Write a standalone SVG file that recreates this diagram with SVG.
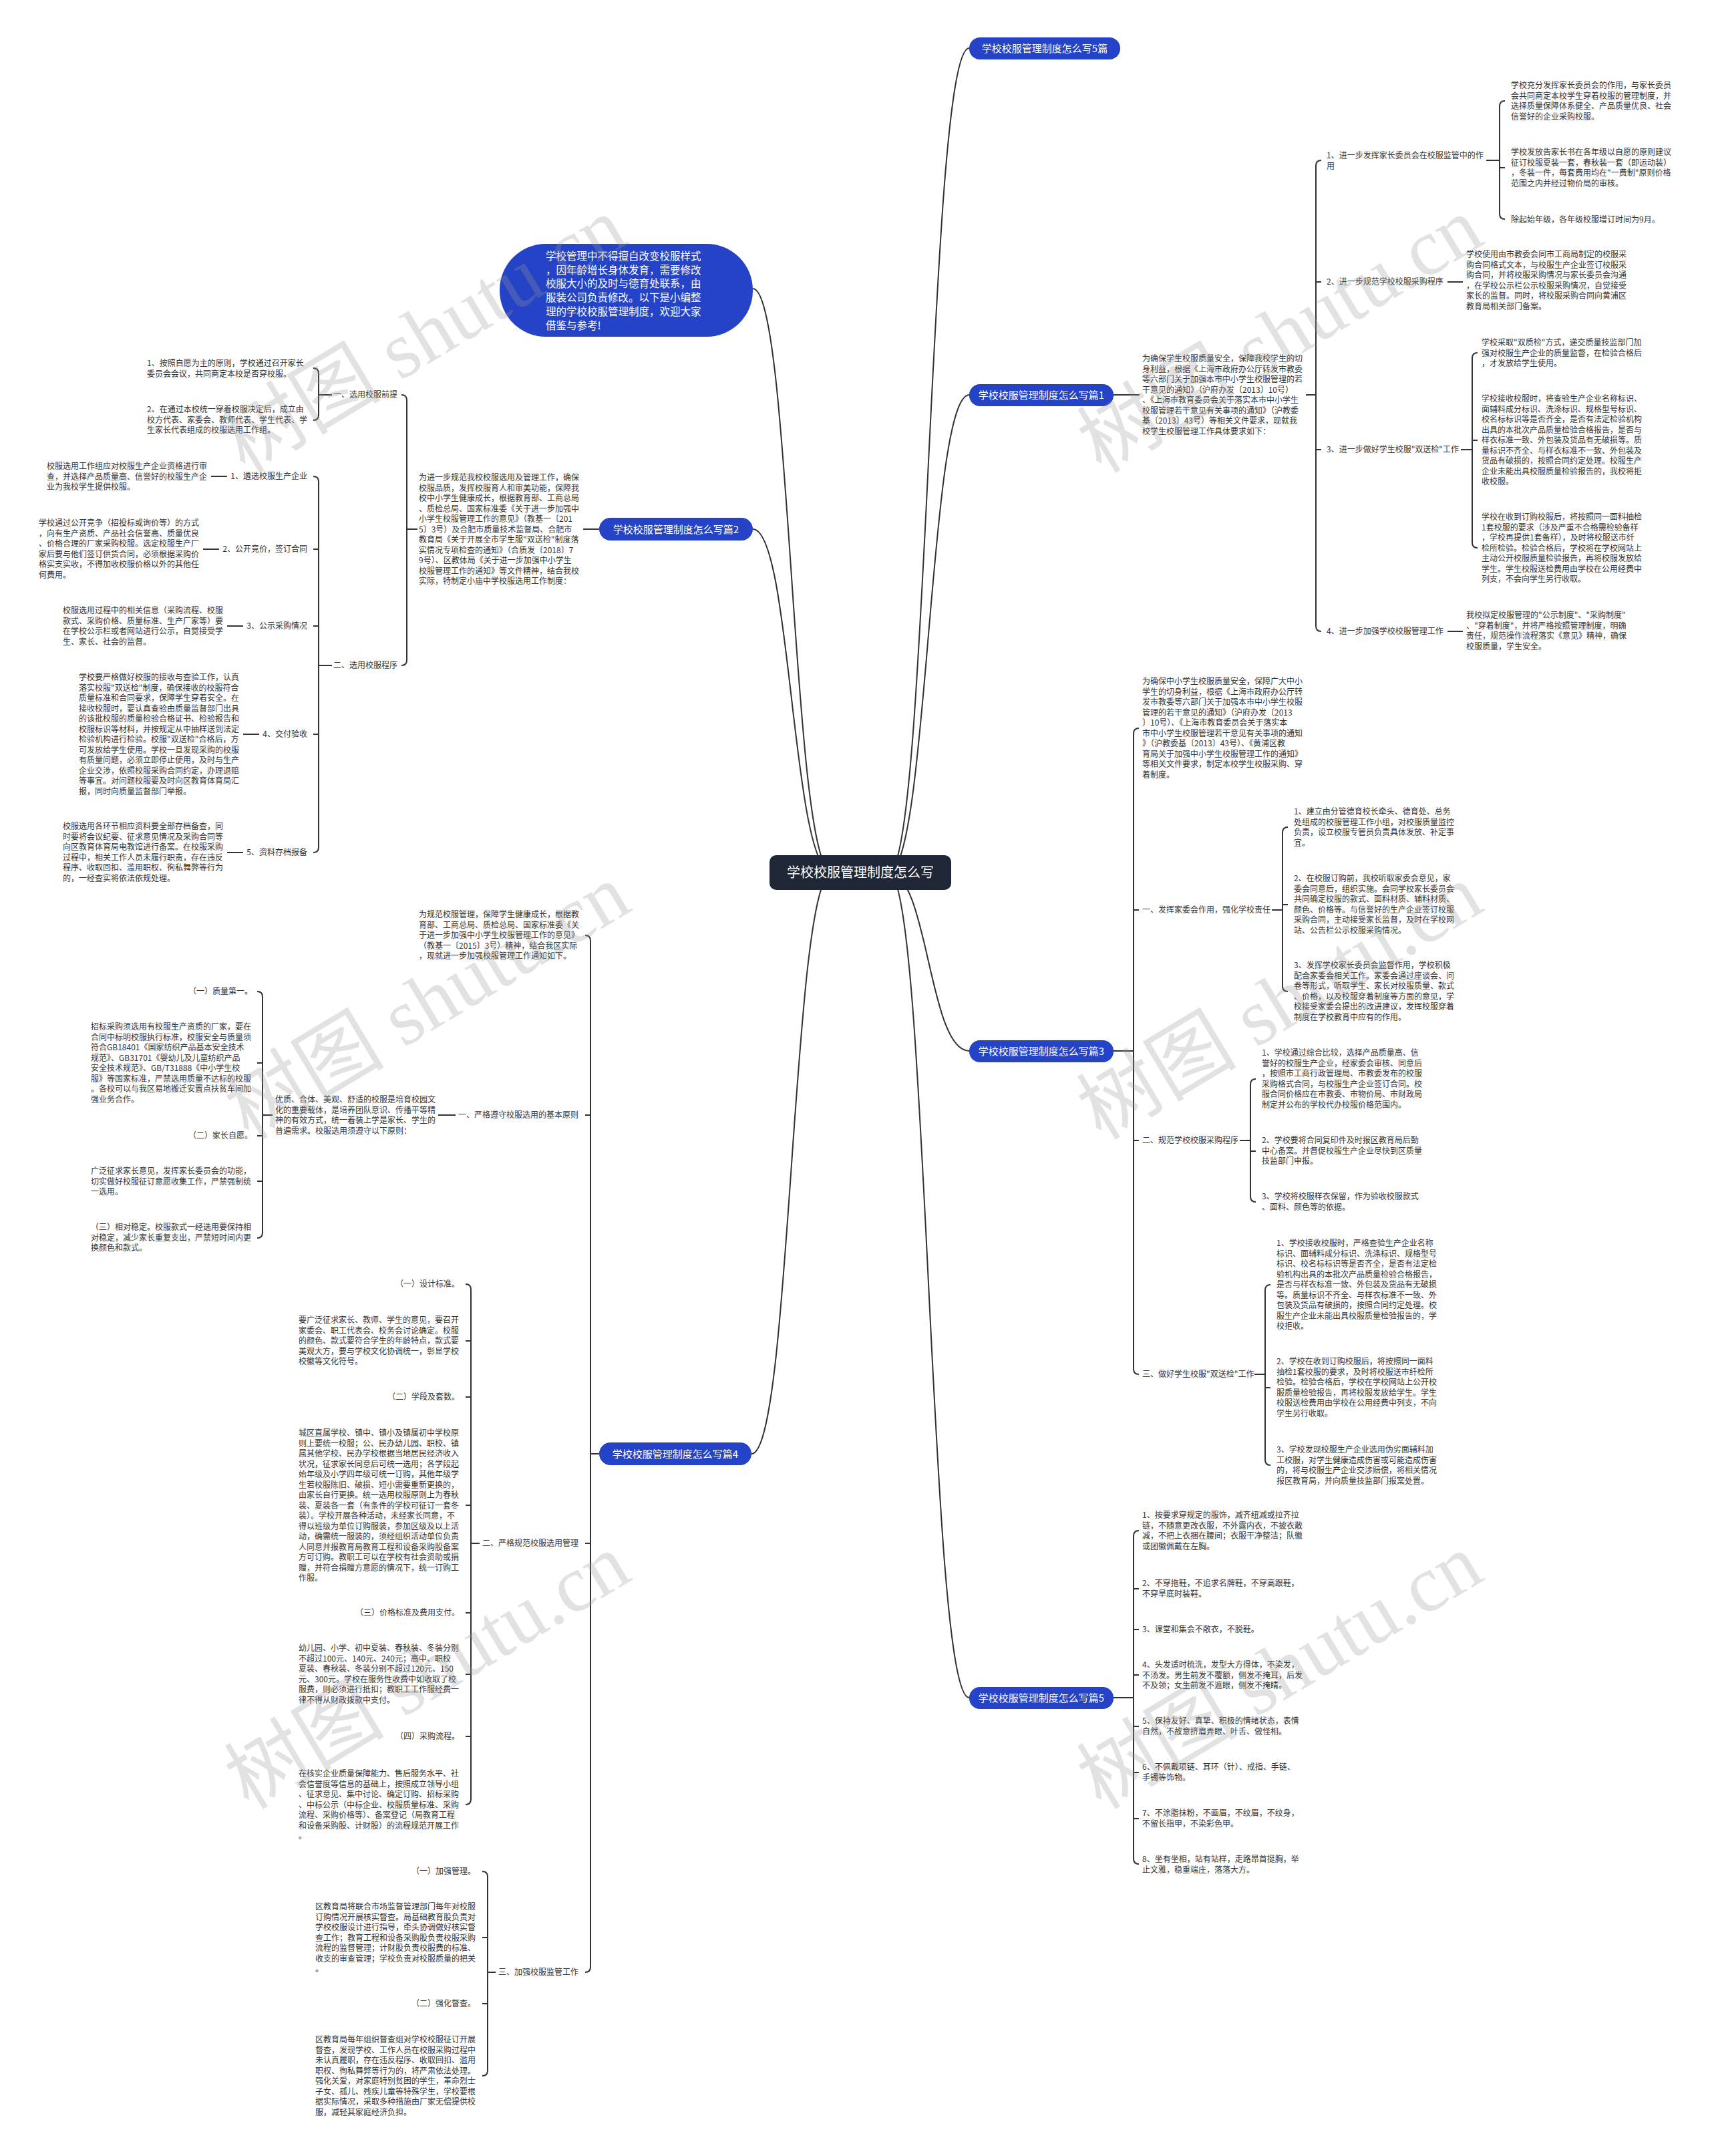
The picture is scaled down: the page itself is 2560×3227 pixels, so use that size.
<svg xmlns="http://www.w3.org/2000/svg" width="2560" height="3227" viewBox="0 0 2560 3227">
<style>
.t{font-family:"Noto Sans CJK SC","Noto Sans",sans-serif;font-size:12px;fill:#333}
.e{text-anchor:end}
.bt{font-family:"Noto Sans CJK SC","Noto Sans",sans-serif;font-size:15px;fill:#fff;text-anchor:middle}
.bu{font-family:"Noto Sans CJK SC","Noto Sans",sans-serif;font-size:15.5px;fill:#fff}
.rt{font-family:"Noto Sans CJK SC","Noto Sans",sans-serif;font-size:20px;fill:#fff;text-anchor:middle}
.c{fill:none;stroke:#333;stroke-width:2}
.pill{fill:#2443c6}
.wm{font-family:"Liberation Serif","Noto Sans CJK SC",serif;font-size:120px;fill:#999;opacity:.28;text-anchor:middle}
</style>
<rect width="2560" height="3227" fill="#fff"/>
<g id="connectors">
<path class="c" d="M1330 1306 C1390 1306 1390 72 1451 72 M1330 1306 C1390 1306 1390 591 1451 591 M1330 1306 C1390 1306 1390 1573 1451 1573 M1330 1306 C1390 1306 1390 2541 1451 2541"/>
<path class="c" d="M1246 1306 C1185 1306 1185 432 1127 432 M1246 1306 C1185 1306 1185 792 1127 792 M1246 1306 C1185 1306 1185 2176 1125 2176"/>
<path class="c" d="M1667 591 H1706 M1955 591 H1970 M1978 240 Q1970 240 1970 248 V937 Q1970 945 1978 945 M1970 422 H1978 M1970 673 H1978"/>
<path class="c" d="M2225 240 H2245 M2253 151 Q2245 151 2245 159 V320 Q2245 328 2253 328 M2245 251 H2253"/>
<path class="c" d="M2167 422 H2190 M2167 945 H2190"/>
<path class="c" d="M2187 673 H2204 M2212 528 Q2204 528 2204 536 V812 Q2204 820 2212 820 M2204 659 H2212"/>
<path class="c" d="M1667 1573 H1697 M1705 1090 Q1697 1090 1697 1098 V2049 Q1697 2057 1705 2057 M1697 1362 H1705 M1697 1707 H1705"/>
<path class="c" d="M1904 1362 H1920 M1928 1238 Q1920 1238 1920 1246 V1476 Q1920 1484 1928 1484 M1920 1354 H1928"/>
<path class="c" d="M1856 1707 H1872 M1880 1615 Q1872 1615 1872 1623 V1791 Q1872 1799 1880 1799 M1872 1723 H1880"/>
<path class="c" d="M1878 2057 H1894 M1902 1923 Q1894 1923 1894 1931 V2185 Q1894 2193 1902 2193 M1894 2077 H1902"/>
<path class="c" d="M1667 2541 H1697 M1705 2291 Q1697 2291 1697 2299 V2782 Q1697 2790 1705 2790 M1697 2378 H1705 M1697 2439 H1705 M1697 2507 H1705 M1697 2584 H1705 M1697 2653 H1705 M1697 2722 H1705"/>
<path class="c" d="M897 792 H873 M625 792 H609 M601 591 Q609 591 609 599 V988 Q609 996 601 996"/>
<path class="c" d="M497 591 H477 M469 551 Q477 551 477 559 V621 Q477 629 469 629"/>
<path class="c" d="M497 996 H477 M469 713 Q477 713 477 721 V1268 Q477 1276 469 1276 M477 822 H469 M477 937 H469 M477 1099 H469"/>
<path class="c" d="M316 713 H340 M304 822 H328 M340 937 H364 M364 1099 H388 M340 1276 H364"/>
<path class="c" d="M897 2176 H884 M876 1400 Q884 1400 884 1408 V2944 Q884 2952 876 2952 M884 1669 H876 M884 2310 H876"/>
<path class="c" d="M656 1669 H682 M408 1669 H393 M385 1484 Q393 1484 393 1492 V1845 Q393 1853 385 1853 M393 1591 H385 M393 1700 H385 M393 1768 H385"/>
<path class="c" d="M718 2310 H705 M697 1922 Q705 1922 705 1930 V2693 Q705 2701 697 2701 M705 2007 H697 M705 2091 H697 M705 2253 H697 M705 2414 H697 M705 2506 H697 M705 2599 H697"/>
<path class="c" d="M742 2952 H730 M722 2801 Q730 2801 730 2809 V3099 Q730 3107 722 3107 M730 2900 H722 M730 2999 H722"/>
</g>
<g id="root"><rect x="1152" y="1280" width="272" height="52" rx="10" fill="#1f2636"/><text class="rt" x="1288" y="1313">学校校服管理制度怎么写</text></g>
<g id="intro-bubble"><rect x="748" y="365" width="379" height="139" rx="69" class="pill"/><text class="bu" x="817" y="389"><tspan x="817">学校管理中不得擅自改变校服样式</tspan><tspan x="817" dy="20.7">，因年龄增长身体发育，需要修改</tspan><tspan x="817" dy="20.7">校服大小的及时与德育处联系，由</tspan><tspan x="817" dy="20.7">服装公司负责修改。以下是小编整</tspan><tspan x="817" dy="20.7">理的学校校服管理制度，欢迎大家</tspan><tspan x="817" dy="20.7">借鉴与参考!</tspan></text></g>
<g id="b5"><rect x="1451" y="56" width="226" height="33" rx="16" class="pill"/><text class="bt" x="1564" y="78">学校校服管理制度怎么写5篇</text></g>
<g id="b1"><rect x="1451" y="575" width="216" height="33" rx="16" class="pill"/><text class="bt" x="1559" y="597">学校校服管理制度怎么写篇1</text></g>
<g id="b3"><rect x="1451" y="1557" width="216" height="33" rx="16" class="pill"/><text class="bt" x="1559" y="1579">学校校服管理制度怎么写篇3</text></g>
<g id="b5b"><rect x="1451" y="2525" width="216" height="33" rx="16" class="pill"/><text class="bt" x="1559" y="2547">学校校服管理制度怎么写篇5</text></g>
<g id="b2"><rect x="897" y="775" width="230" height="34" rx="17" class="pill"/><text class="bt" x="1012" y="798">学校校服管理制度怎么写篇2</text></g>
<g id="b4"><rect x="897" y="2159" width="228" height="34" rx="17" class="pill"/><text class="bt" x="1011" y="2182">学校校服管理制度怎么写篇4</text></g>

<g id="p1-intro"><text class="t" x="1710" y="541"><tspan x="1710">为确保学生校服质量安全，保障我校学生的切</tspan><tspan x="1710" dy="15.5">身利益，根据《上海市政府办公厅转发市教委</tspan><tspan x="1710" dy="15.5">等六部门关于加强本市中小学生校服管理的若</tspan><tspan x="1710" dy="15.5">干意见的通知》（沪府办发〔2013〕10号）</tspan><tspan x="1710" dy="15.5">、《上海市教育委员会关于落实本市中小学生</tspan><tspan x="1710" dy="15.5">校服管理若干意见有关事项的通知》（沪教委</tspan><tspan x="1710" dy="15.5">基〔2013〕43号）等相关文件要求，现就我</tspan><tspan x="1710" dy="15.5">校学生校服管理工作具体要求如下：</tspan></text></g>
<g id="p1-i1"><text class="t" x="1986" y="237"><tspan x="1986">1、进一步发挥家长委员会在校服监管中的作</tspan><tspan x="1986" dy="15.5">用</tspan></text></g>
<g id="p1-i2"><text class="t" x="1986" y="426">2、进一步规范学校校服采购程序</text></g>
<g id="p1-i3"><text class="t" x="1986" y="677">3、进一步做好学生校服"双送检"工作</text></g>
<g id="p1-i4"><text class="t" x="1986" y="949">4、进一步加强学校校服管理工作</text></g>
<g id="p1-l1a"><text class="t" x="2262" y="132"><tspan x="2262">学校充分发挥家长委员会的作用，与家长委员</tspan><tspan x="2262" dy="15.5">会共同商定本校学生穿着校服的管理制度，并</tspan><tspan x="2262" dy="15.5">选择质量保障体系健全、产品质量优良、社会</tspan><tspan x="2262" dy="15.5">信誉好的企业采购校服。</tspan></text></g>
<g id="p1-l1b"><text class="t" x="2262" y="232"><tspan x="2262">学校发放告家长书在各年级以自愿的原则建议</tspan><tspan x="2262" dy="15.5">征订校服夏装一套，春秋装一套（即运动装）</tspan><tspan x="2262" dy="15.5">，冬装一件，每套费用均在"一费制"原则价格</tspan><tspan x="2262" dy="15.5">范围之内并经过物价局的审核。</tspan></text></g>
<g id="p1-l1c"><text class="t" x="2262" y="333">除起始年级，各年级校服增订时间为9月。</text></g>
<g id="p1-l2"><text class="t" x="2195" y="385"><tspan x="2195">学校使用由市教委会同市工商局制定的校服采</tspan><tspan x="2195" dy="15.5">购合同格式文本，与校服生产企业签订校服采</tspan><tspan x="2195" dy="15.5">购合同，并将校服采购情况与家长委员会沟通</tspan><tspan x="2195" dy="15.5">，在学校公示栏公示校服采购情况，自觉接受</tspan><tspan x="2195" dy="15.5">家长的监督。同时，将校服采购合同向黄浦区</tspan><tspan x="2195" dy="15.5">教育局相关部门备案。</tspan></text></g>
<g id="p1-l3a"><text class="t" x="2218" y="517"><tspan x="2218">学校采取"双质检"方式，递交质量技监部门加</tspan><tspan x="2218" dy="15.5">强对校服生产企业的质量监督，在检验合格后</tspan><tspan x="2218" dy="15.5">，才发放给学生使用。</tspan></text></g>
<g id="p1-l3b"><text class="t" x="2218" y="601"><tspan x="2218">学校接收校服时，将查验生产企业名称标识、</tspan><tspan x="2218" dy="15.5">面辅料成分标识、洗涤标识、规格型号标识、</tspan><tspan x="2218" dy="15.5">校名标标识等是否齐全，是否有法定检验机构</tspan><tspan x="2218" dy="15.5">出具的本批次产品质量检验合格报告，是否与</tspan><tspan x="2218" dy="15.5">样衣标准一致、外包装及货品有无破损等。质</tspan><tspan x="2218" dy="15.5">量标识不齐全、与样衣标准不一致、外包装及</tspan><tspan x="2218" dy="15.5">货品有破损的，按照合同约定处理。校服生产</tspan><tspan x="2218" dy="15.5">企业未能出具校服质量检验报告的，我校将拒</tspan><tspan x="2218" dy="15.5">收校服。</tspan></text></g>
<g id="p1-l3c"><text class="t" x="2218" y="778"><tspan x="2218">学校在收到订购校服后，将按照同一面料抽检</tspan><tspan x="2218" dy="15.5">1套校服的要求（涉及严重不合格需检验备样</tspan><tspan x="2218" dy="15.5">，学校再提供1套备样），及时将校服送市纤</tspan><tspan x="2218" dy="15.5">检所检验。检验合格后，学校将在学校网站上</tspan><tspan x="2218" dy="15.5">主动公开校服质量检验报告，再将校服发放给</tspan><tspan x="2218" dy="15.5">学生。学生校服送检费用由学校在公用经费中</tspan><tspan x="2218" dy="15.5">列支，不会向学生另行收取。</tspan></text></g>
<g id="p1-l4"><text class="t" x="2195" y="925"><tspan x="2195">我校拟定校服管理的"公示制度"、"采购制度"</tspan><tspan x="2195" dy="15.5">、"穿着制度"，并将严格按照管理制度，明确</tspan><tspan x="2195" dy="15.5">责任，规范操作流程落实《意见》精神，确保</tspan><tspan x="2195" dy="15.5">校服质量，学生安全。</tspan></text></g>

<g id="p3-intro"><text class="t" x="1710" y="1024"><tspan x="1710">为确保中小学生校服质量安全，保障广大中小</tspan><tspan x="1710" dy="15.5">学生的切身利益，根据《上海市政府办公厅转</tspan><tspan x="1710" dy="15.5">发市教委等六部门关于加强本市中小学生校服</tspan><tspan x="1710" dy="15.5">管理的若干意见的通知》（沪府办发〔2013</tspan><tspan x="1710" dy="15.5">〕10号）、《上海市教育委员会关于落实本</tspan><tspan x="1710" dy="15.5">市中小学生校服管理若干意见有关事项的通知</tspan><tspan x="1710" dy="15.5">》（沪教委基〔2013〕43号）、《黄浦区教</tspan><tspan x="1710" dy="15.5">育局关于加强中小学生校服管理工作的通知》</tspan><tspan x="1710" dy="15.5">等相关文件要求，制定本校学生校服采购、穿</tspan><tspan x="1710" dy="15.5">着制度。</tspan></text></g>
<g id="p3-s1"><text class="t" x="1710" y="1366">一、发挥家委会作用，强化学校责任</text></g>
<g id="p3-s1c1"><text class="t" x="1937" y="1219"><tspan x="1937">1、建立由分管德育校长牵头、德育处、总务</tspan><tspan x="1937" dy="15.5">处组成的校服管理工作小组，对校服质量监控</tspan><tspan x="1937" dy="15.5">负责，设立校服专管员负责具体发放、补定事</tspan><tspan x="1937" dy="15.5">宜。</tspan></text></g>
<g id="p3-s1c2"><text class="t" x="1937" y="1319"><tspan x="1937">2、在校服订购前，我校听取家委会意见，家</tspan><tspan x="1937" dy="15.5">委会同意后，组织实施。会同学校家长委员会</tspan><tspan x="1937" dy="15.5">共同确定校服的款式、面料材质、辅料材质、</tspan><tspan x="1937" dy="15.5">颜色、价格等。与信誉好的生产企业签订校服</tspan><tspan x="1937" dy="15.5">采购合同，主动接受家长监督，及时在学校网</tspan><tspan x="1937" dy="15.5">站、公告栏公示校服采购情况。</tspan></text></g>
<g id="p3-s1c3"><text class="t" x="1937" y="1449"><tspan x="1937">3、发挥学校家长委员会监督作用，学校积极</tspan><tspan x="1937" dy="15.5">配合家委会相关工作。家委会通过座谈会、问</tspan><tspan x="1937" dy="15.5">卷等形式，听取学生、家长对校服质量、款式</tspan><tspan x="1937" dy="15.5">、价格，以及校服穿着制度等方面的意见，学</tspan><tspan x="1937" dy="15.5">校接受家委会提出的改进建议，发挥校服穿着</tspan><tspan x="1937" dy="15.5">制度在学校教育中应有的作用。</tspan></text></g>
<g id="p3-s2"><text class="t" x="1710" y="1711">二、规范学校校服采购程序</text></g>
<g id="p3-s2c1"><text class="t" x="1889" y="1580"><tspan x="1889">1、学校通过综合比较，选择产品质量高、信</tspan><tspan x="1889" dy="15.5">誉好的校服生产企业，经家委会审核、同意后</tspan><tspan x="1889" dy="15.5">，按照市工商行政管理局、市教委发布的校服</tspan><tspan x="1889" dy="15.5">采购格式合同，与校服生产企业签订合同。校</tspan><tspan x="1889" dy="15.5">服合同价格应在市教委、市物价局、市财政局</tspan><tspan x="1889" dy="15.5">制定并公布的学校代办校服价格范围内。</tspan></text></g>
<g id="p3-s2c2"><text class="t" x="1889" y="1711"><tspan x="1889">2、学校要将合同复印件及时报区教育局后勤</tspan><tspan x="1889" dy="15.5">中心备案。并督促校服生产企业尽快到区质量</tspan><tspan x="1889" dy="15.5">技监部门申报。</tspan></text></g>
<g id="p3-s2c3"><text class="t" x="1889" y="1795"><tspan x="1889">3、学校将校服样衣保留，作为验收校服款式</tspan><tspan x="1889" dy="15.5">、面料、颜色等的依据。</tspan></text></g>
<g id="p3-s3"><text class="t" x="1710" y="2061">三、做好学生校服"双送检"工作</text></g>
<g id="p3-s3c1"><text class="t" x="1911" y="1865"><tspan x="1911">1、学校接收校服时，严格查验生产企业名称</tspan><tspan x="1911" dy="15.5">标识、面辅料成分标识、洗涤标识、规格型号</tspan><tspan x="1911" dy="15.5">标识、校名标标识等是否齐全，是否有法定检</tspan><tspan x="1911" dy="15.5">验机构出具的本批次产品质量检验合格报告，</tspan><tspan x="1911" dy="15.5">是否与样衣标准一致、外包装及货品有无破损</tspan><tspan x="1911" dy="15.5">等。质量标识不齐全、与样衣标准不一致、外</tspan><tspan x="1911" dy="15.5">包装及货品有破损的，按照合同约定处理。校</tspan><tspan x="1911" dy="15.5">服生产企业未能出具校服质量检验报告的，学</tspan><tspan x="1911" dy="15.5">校拒收。</tspan></text></g>
<g id="p3-s3c2"><text class="t" x="1911" y="2042"><tspan x="1911">2、学校在收到订购校服后，将按照同一面料</tspan><tspan x="1911" dy="15.5">抽检1套校服的要求，及时将校服送市纤检所</tspan><tspan x="1911" dy="15.5">检验。检验合格后，学校在学校网站上公开校</tspan><tspan x="1911" dy="15.5">服质量检验报告，再将校服发放给学生。学生</tspan><tspan x="1911" dy="15.5">校服送检费用由学校在公用经费中列支，不向</tspan><tspan x="1911" dy="15.5">学生另行收取。</tspan></text></g>
<g id="p3-s3c3"><text class="t" x="1911" y="2174"><tspan x="1911">3、学校发现校服生产企业选用伪劣面辅料加</tspan><tspan x="1911" dy="15.5">工校服，对学生健康造成伤害或可能造成伤害</tspan><tspan x="1911" dy="15.5">的，将与校服生产企业交涉赔偿，将相关情况</tspan><tspan x="1911" dy="15.5">报区教育局，并向质量技监部门报案处置。</tspan></text></g>

<g id="p5-1"><text class="t" x="1710" y="2272"><tspan x="1710">1、按要求穿规定的服饰，减齐纽减或拉齐拉</tspan><tspan x="1710" dy="15.5">链，不随意更改衣服，不外露内衣，不披衣散</tspan><tspan x="1710" dy="15.5">减，不把上衣捆在腰间；衣服干净整洁；队徽</tspan><tspan x="1710" dy="15.5">或团徽佩戴在左胸。</tspan></text></g>
<g id="p5-2"><text class="t" x="1710" y="2374"><tspan x="1710">2、不穿拖鞋，不追求名牌鞋，不穿高跟鞋，</tspan><tspan x="1710" dy="15.5">不穿旱底时装鞋。</tspan></text></g>
<g id="p5-3"><text class="t" x="1710" y="2443">3、课堂和集会不敞衣，不脱鞋。</text></g>
<g id="p5-4"><text class="t" x="1710" y="2496"><tspan x="1710">4、头发适时梳洗，发型大方得体，不染发，</tspan><tspan x="1710" dy="15.5">不汤发。男生前发不覆额，侧发不掩耳，后发</tspan><tspan x="1710" dy="15.5">不及领；女生前发不遮眼，侧发不掩睛。</tspan></text></g>
<g id="p5-5"><text class="t" x="1710" y="2580"><tspan x="1710">5、保持友好、真挚、积极的情绪状态，表情</tspan><tspan x="1710" dy="15.5">自然，不故意挤眉弄眼、叶舌、做怪相。</tspan></text></g>
<g id="p5-6"><text class="t" x="1710" y="2649"><tspan x="1710">6、不佩戴项链、耳环（针）、戒指、手链、</tspan><tspan x="1710" dy="15.5">手镯等饰物。</tspan></text></g>
<g id="p5-7"><text class="t" x="1710" y="2718"><tspan x="1710">7、不涂脂抹粉，不画眉，不纹眉，不纹身，</tspan><tspan x="1710" dy="15.5">不留长指甲，不染彩色甲。</tspan></text></g>
<g id="p5-8"><text class="t" x="1710" y="2787"><tspan x="1710">8、坐有坐相，站有站样，走路昂首挺胸，举</tspan><tspan x="1710" dy="15.5">止文雅，稳重端庄，落落大方。</tspan></text></g>

<g id="p2-intro"><text class="t" x="627" y="719"><tspan x="627">为进一步规范我校校服选用及管理工作，确保</tspan><tspan x="627" dy="15.5">校服品质，发挥校服育人和审美功能，保障我</tspan><tspan x="627" dy="15.5">校中小学生健康成长，根据教育部、工商总局</tspan><tspan x="627" dy="15.5">、质检总局、国家标准委《关于进一步加强中</tspan><tspan x="627" dy="15.5">小学生校服管理工作的意见》（教基一〔201</tspan><tspan x="627" dy="15.5">5〕3号）及合肥市质量技术监督局、合肥市</tspan><tspan x="627" dy="15.5">教育局《关于开展全市学生服"双送检"制度落</tspan><tspan x="627" dy="15.5">实情况专项检查的通知》（合质发〔2018〕7</tspan><tspan x="627" dy="15.5">9号）、区教体局《关于进一步加强中小学生</tspan><tspan x="627" dy="15.5">校服管理工作的通知》等文件精神，结合我校</tspan><tspan x="627" dy="15.5">实际，特制定小庙中学校服选用工作制度：</tspan></text></g>
<g id="p2-s1"><text class="t e" x="595" y="595">一、选用校服前提</text></g>
<g id="p2-s1c1"><text class="t" x="220" y="548"><tspan x="220">1、按照自愿为主的原则，学校通过召开家长</tspan><tspan x="220" dy="15.5">委员会会议，共同商定本校是否穿校服。</tspan></text></g>
<g id="p2-s1c2"><text class="t" x="220" y="617"><tspan x="220">2、在通过本校统一穿着校服决定后，成立由</tspan><tspan x="220" dy="15.5">校方代表、家委会、教师代表、学生代表、学</tspan><tspan x="220" dy="15.5">生家长代表组成的校服选用工作组。</tspan></text></g>
<g id="p2-s2"><text class="t e" x="595" y="1000">二、选用校服程序</text></g>
<g id="p2-k1"><text class="t e" x="460" y="717">1、遴选校服生产企业</text></g>
<g id="p2-k1l"><text class="t" x="70" y="702"><tspan x="70">校服选用工作组应对校服生产企业资格进行审</tspan><tspan x="70" dy="15.5">查，并选择产品质量高、信誉好的校服生产企</tspan><tspan x="70" dy="15.5">业为我校学生提供校服。</tspan></text></g>
<g id="p2-k2"><text class="t e" x="460" y="826">2、公开竞价，签订合同</text></g>
<g id="p2-k2l"><text class="t" x="58" y="787"><tspan x="58">学校通过公开竞争（招投标或询价等）的方式</tspan><tspan x="58" dy="15.5">，向有生产资质、产品社会信誉高、质量优良</tspan><tspan x="58" dy="15.5">、价格合理的厂家采购校服。选定校服生产厂</tspan><tspan x="58" dy="15.5">家后要与他们签订供货合同，必须根据采购价</tspan><tspan x="58" dy="15.5">格实支实收，不得加收校服价格以外的其他任</tspan><tspan x="58" dy="15.5">何费用。</tspan></text></g>
<g id="p2-k3"><text class="t e" x="460" y="941">3、公示采购情况</text></g>
<g id="p2-k3l"><text class="t" x="94" y="918"><tspan x="94">校服选用过程中的相关信息（采购流程、校服</tspan><tspan x="94" dy="15.5">款式、采购价格、质量标准、生产厂家等）要</tspan><tspan x="94" dy="15.5">在学校公示栏或者网站进行公示，自觉接受学</tspan><tspan x="94" dy="15.5">生、家长、社会的监督。</tspan></text></g>
<g id="p2-k4"><text class="t e" x="460" y="1103">4、交付验收</text></g>
<g id="p2-k4l"><text class="t" x="118" y="1018"><tspan x="118">学校要严格做好校服的接收与查验工作，认真</tspan><tspan x="118" dy="15.5">落实校服"双送检"制度，确保接收的校服符合</tspan><tspan x="118" dy="15.5">质量标准和合同要求，保障学生穿着安全。在</tspan><tspan x="118" dy="15.5">接收校服时，要认真查验由质量监督部门出具</tspan><tspan x="118" dy="15.5">的该批校服的质量检验合格证书、检验报告和</tspan><tspan x="118" dy="15.5">校服标识等材料，并按规定从中抽样送到法定</tspan><tspan x="118" dy="15.5">检验机构进行检验。校服"双送检"合格后，方</tspan><tspan x="118" dy="15.5">可发放给学生使用。学校一旦发现采购的校服</tspan><tspan x="118" dy="15.5">有质量问题，必须立即停止使用，及时与生产</tspan><tspan x="118" dy="15.5">企业交涉，依照校服采购合同约定，办理退赔</tspan><tspan x="118" dy="15.5">等事宜。对问题校服要及时向区教育体育局汇</tspan><tspan x="118" dy="15.5">报，同时向质量监督部门举报。</tspan></text></g>
<g id="p2-k5"><text class="t e" x="460" y="1280">5、资料存档报备</text></g>
<g id="p2-k5l"><text class="t" x="94" y="1241"><tspan x="94">校服选用各环节相应资料要全部存档备查，同</tspan><tspan x="94" dy="15.5">时要将会议纪要、征求意见情况及采购合同等</tspan><tspan x="94" dy="15.5">向区教育体育局电教馆进行备案。在校服采购</tspan><tspan x="94" dy="15.5">过程中，相关工作人员未履行职责，存在违反</tspan><tspan x="94" dy="15.5">程序、收取回扣、滥用职权、徇私舞弊等行为</tspan><tspan x="94" dy="15.5">的，一经查实将依法依规处理。</tspan></text></g>

<g id="p4-intro"><text class="t" x="627" y="1373"><tspan x="627">为规范校服管理，保障学生健康成长，根据教</tspan><tspan x="627" dy="15.5">育部、工商总局、质检总局、国家标准委《关</tspan><tspan x="627" dy="15.5">于进一步加强中小学生校服管理工作的意见》</tspan><tspan x="627" dy="15.5">（教基一〔2015〕3号）精神，结合我区实际</tspan><tspan x="627" dy="15.5">，现就进一步加强校服管理工作通知如下。</tspan></text></g>
<g id="p4-s1"><text class="t e" x="866" y="1673">一、严格遵守校服选用的基本原则</text></g>
<g id="p4-s1t"><text class="t" x="412" y="1650"><tspan x="412">优质、合体、美观、舒适的校服是培育校园文</tspan><tspan x="412" dy="15.5">化的重要载体，是培养团队意识、传播平等精</tspan><tspan x="412" dy="15.5">神的有效方式，统一着装上学是家长、学生的</tspan><tspan x="412" dy="15.5">普遍需求。校服选用须遵守以下原则：</tspan></text></g>
<g id="p4-s1a"><text class="t e" x="378" y="1488">（一）质量第一。</text></g>
<g id="p4-s1al"><text class="t" x="136" y="1541"><tspan x="136">招标采购须选用有校服生产资质的厂家，要在</tspan><tspan x="136" dy="15.5">合同中标明校服执行标准，校服安全与质量须</tspan><tspan x="136" dy="15.5">符合GB18401《国家纺织产品基本安全技术</tspan><tspan x="136" dy="15.5">规范》、GB31701《婴幼儿及儿童纺织产品</tspan><tspan x="136" dy="15.5">安全技术规范》、GB/T31888《中小学生校</tspan><tspan x="136" dy="15.5">服》等国家标准，严禁选用质量不达标的校服</tspan><tspan x="136" dy="15.5">。各校可以与我区易地搬迁安置点扶贫车间加</tspan><tspan x="136" dy="15.5">强业务合作。</tspan></text></g>
<g id="p4-s1b"><text class="t e" x="378" y="1704">（二）家长自愿。</text></g>
<g id="p4-s1bl"><text class="t" x="136" y="1757"><tspan x="136">广泛征求家长意见，发挥家长委员会的功能，</tspan><tspan x="136" dy="15.5">切实做好校服征订意愿收集工作，严禁强制统</tspan><tspan x="136" dy="15.5">一选用。</tspan></text></g>
<g id="p4-s1c"><text class="t" x="136" y="1841"><tspan x="136">（三）相对稳定。校服款式一经选用要保持相</tspan><tspan x="136" dy="15.5">对稳定，减少家长重复支出，严禁短时间内更</tspan><tspan x="136" dy="15.5">换颜色和款式。</tspan></text></g>
<g id="p4-s2"><text class="t e" x="866" y="2314">二、严格规范校服选用管理</text></g>
<g id="p4-s2a"><text class="t e" x="688" y="1926">（一）设计标准。</text></g>
<g id="p4-s2al"><text class="t" x="447" y="1980"><tspan x="447">要广泛征求家长、教师、学生的意见，要召开</tspan><tspan x="447" dy="15.5">家委会、职工代表会、校务会讨论确定。校服</tspan><tspan x="447" dy="15.5">的颜色、款式要符合学生的年龄特点，款式要</tspan><tspan x="447" dy="15.5">美观大方，要与学校文化协调统一，彰显学校</tspan><tspan x="447" dy="15.5">校徽等文化符号。</tspan></text></g>
<g id="p4-s2b"><text class="t e" x="688" y="2095">（二）学段及套数。</text></g>
<g id="p4-s2bl"><text class="t" x="447" y="2149"><tspan x="447">城区直属学校、镇中、镇小及镇属初中学校原</tspan><tspan x="447" dy="15.5">则上要统一校服；公、民办幼儿园、职校、镇</tspan><tspan x="447" dy="15.5">属其他学校、民办学校根据当地居民经济收入</tspan><tspan x="447" dy="15.5">状况，征求家长同意后可统一选用；各学段起</tspan><tspan x="447" dy="15.5">始年级及小学四年级可统一订购，其他年级学</tspan><tspan x="447" dy="15.5">生若校服陈旧、破损、短小需要重新更换的，</tspan><tspan x="447" dy="15.5">由家长自行更换。统一选用校服原则上为春秋</tspan><tspan x="447" dy="15.5">装、夏装各一套（有条件的学校可征订一套冬</tspan><tspan x="447" dy="15.5">装）。学校开展各种活动，未经家长同意，不</tspan><tspan x="447" dy="15.5">得以班级为单位订购服装，参加区级及以上活</tspan><tspan x="447" dy="15.5">动，确需统一服装的，须经组织活动单位负责</tspan><tspan x="447" dy="15.5">人同意并报教育局教育工程和设备采购股备案</tspan><tspan x="447" dy="15.5">方可订购。教职工可以在学校有社会资助或捐</tspan><tspan x="447" dy="15.5">赠，并符合捐赠方意愿的情况下，统一订购工</tspan><tspan x="447" dy="15.5">作服。</tspan></text></g>
<g id="p4-s2c"><text class="t e" x="688" y="2418">（三）价格标准及费用支付。</text></g>
<g id="p4-s2cl"><text class="t" x="447" y="2471"><tspan x="447">幼儿园、小学、初中夏装、春秋装、冬装分别</tspan><tspan x="447" dy="15.5">不超过100元、140元、240元；高中、职校</tspan><tspan x="447" dy="15.5">夏装、春秋装、冬装分别不超过120元、150</tspan><tspan x="447" dy="15.5">元、300元。学校在服务性收费中如收取了校</tspan><tspan x="447" dy="15.5">服费，则必须进行抵扣；教职工工作服经费一</tspan><tspan x="447" dy="15.5">律不得从财政拨款中支付。</tspan></text></g>
<g id="p4-s2d"><text class="t e" x="688" y="2603">（四）采购流程。</text></g>
<g id="p4-s2dl"><text class="t" x="447" y="2659"><tspan x="447">在核实企业质量保障能力、售后服务水平、社</tspan><tspan x="447" dy="15.5">会信誉度等信息的基础上，按照成立领导小组</tspan><tspan x="447" dy="15.5">、征求意见、集中讨论、确定订购、招标采购</tspan><tspan x="447" dy="15.5">、中标公示（中标企业、校服质量标准、采购</tspan><tspan x="447" dy="15.5">流程、采购价格等）、备案登记（局教育工程</tspan><tspan x="447" dy="15.5">和设备采购股、计财股）的流程规范开展工作</tspan><tspan x="447" dy="15.5">。</tspan></text></g>
<g id="p4-s3"><text class="t e" x="866" y="2956">三、加强校服监管工作</text></g>
<g id="p4-s3a"><text class="t e" x="712" y="2805">（一）加强管理。</text></g>
<g id="p4-s3al"><text class="t" x="472" y="2858"><tspan x="472">区教育局将联合市场监督管理部门每年对校服</tspan><tspan x="472" dy="15.5">订购情况开展核实督查。局基础教育股负责对</tspan><tspan x="472" dy="15.5">学校校服设计进行指导，牵头协调做好核实督</tspan><tspan x="472" dy="15.5">查工作；教育工程和设备采购股负责校服采购</tspan><tspan x="472" dy="15.5">流程的监督管理；计财股负责校服费的标准、</tspan><tspan x="472" dy="15.5">收支的审查管理；学校负责对校服质量的把关</tspan><tspan x="472" dy="15.5">。</tspan></text></g>
<g id="p4-s3b"><text class="t e" x="712" y="3003">（二）强化督查。</text></g>
<g id="p4-s3bl"><text class="t" x="472" y="3057"><tspan x="472">区教育局每年组织督查组对学校校服征订开展</tspan><tspan x="472" dy="15.5">督查，发现学校、工作人员在校服采购过程中</tspan><tspan x="472" dy="15.5">未认真履职，存在违反程序、收取回扣、滥用</tspan><tspan x="472" dy="15.5">职权、徇私舞弊等行为的，将严肃依法处理。</tspan><tspan x="472" dy="15.5">强化关爱，对家庭特别贫困的学生，革命烈士</tspan><tspan x="472" dy="15.5">子女、孤儿、残疾儿童等特殊学生，学校要根</tspan><tspan x="472" dy="15.5">据实际情况，采取多种措施由厂家无偿提供校</tspan><tspan x="472" dy="15.5">服，减轻其家庭经济负担。</tspan></text></g>

<g id="watermarks">
<text class="wm" x="642" y="540" transform="rotate(-31 642 514)">树图 shutu.cn</text>
<text class="wm" x="1924" y="540" transform="rotate(-31 1924 514)">树图 shutu.cn</text>
<text class="wm" x="648" y="1538" transform="rotate(-31 648 1513)">树图 shutu.cn</text>
<text class="wm" x="1924" y="1538" transform="rotate(-31 1924 1513)">树图 shutu.cn</text>
<text class="wm" x="648" y="2540" transform="rotate(-31 648 2515)">树图 shutu.cn</text>
<text class="wm" x="1924" y="2540" transform="rotate(-31 1924 2515)">树图 shutu.cn</text>
</g>
</svg>
